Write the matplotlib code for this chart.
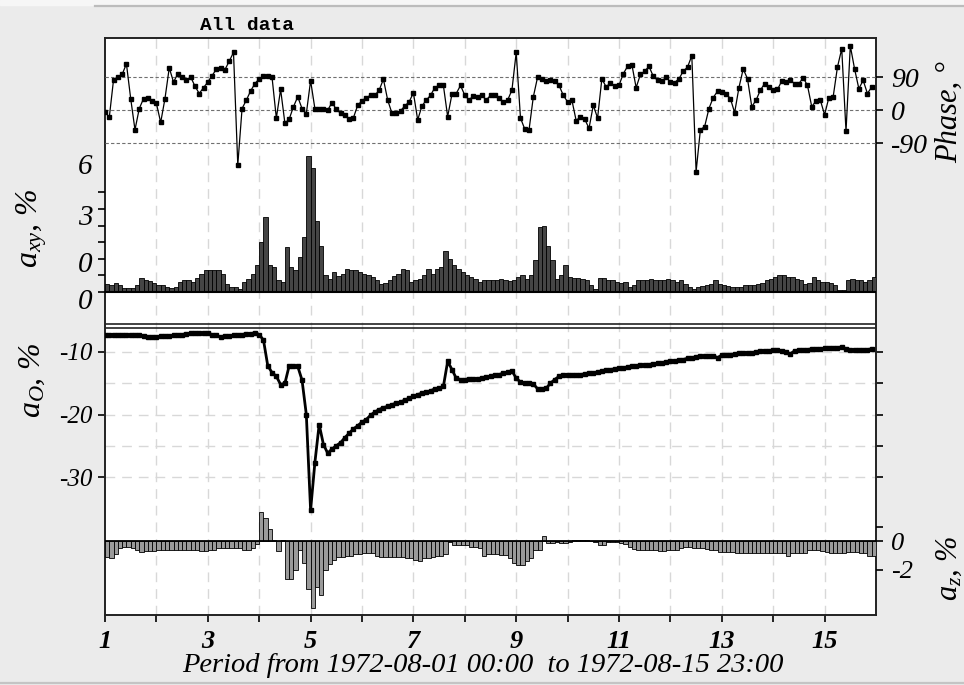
import numpy as np
import matplotlib.pyplot as plt
from matplotlib.lines import Line2D
from matplotlib.patches import Rectangle
import matplotlib.transforms as mtransforms

plt.rcParams["mathtext.fontset"] = "custom"
plt.rcParams["mathtext.it"] = "Liberation Serif:italic"
plt.rcParams["mathtext.rm"] = "Liberation Serif:italic"

# 2-hourly samples, 1972-08-01 00:00 .. 1972-08-15 22:00
hours = np.arange(0, 360, 2)
day = 1 + hours / 24
step = 2 / 24

# phase, degrees
phase = [
    -5, -20, 83, 90, 97, 126, 31, -54, 4, 31,
    34, 24, 18, -34, 31, 115, 76, 99, 90, 81,
    90, 65, 45, 61, 76, 94, 111, 115, 110, 133,
    157, -150, 4, 27, 52, 72, 85, 92, 93, 89,
    -22, 56, -36, -25, 9, 36, 4, -10, 80, 4,
    4, 4, 0, 20, 2, -9, -13, -25, -21, 13,
    25, 34, 40, 40, 54, 84, 27, -9, -9, -2,
    11, 22, 47, -27, 11, 27, 40, 61, 67, 67,
    -18, 43, 45, 67, 40, 27, 39, 36, 40, 27,
    40, 40, 33, 22, 27, 54, 157, -22, -52, -54,
    36, 90, 85, 79, 83, 79, 67, 40, 22, 27,
    -29, -18, -25, -50, 13, -22, 85, 63, 74, 66,
    67, 99, 119, 124, 61, 97, 106, 119, 92, 81,
    78, 90, 76, 75, 85, 106, 117, 148, -168, -54,
    -45, 4, 34, 51, 50, 45, 31, -7, 61, 112,
    85, 9, 27, 54, 72, 63, 54, 56, 79, 76,
    81, 72, 72, 88, 67, 9, 25, 27, -13, 34,
    36, 117, 167, -58, 175, 112, 58, 81, 45, 63,
]

# horizontal amplitude a_xy (tick units)
axy = [
    0.5, 0.4, 0.55, 0.45, 0.25, 0.25, 0.25, 0.4, 0.85, 0.75,
    0.65, 0.55, 0.4, 0.4, 0.3, 0.25, 0.3, 0.6, 0.75, 0.7,
    0.6, 0.85, 1.1, 1.3, 1.35, 1.3, 1.35, 1.1, 0.5, 0.3,
    0.3, 0.2, 0.6, 0.8, 1.1, 1.6, 3.0, 4.5, 1.6, 1.5,
    0.7, 0.6, 2.7, 1.5, 1.3, 2.1, 3.3, 8.2, 7.5, 4.25,
    2.8, 1.0, 0.8, 1.2, 0.95, 1.1, 1.4, 1.3, 1.3, 1.2,
    1.1, 1.0, 0.9, 0.7, 0.5, 0.55, 0.7, 0.95, 1.1, 1.4,
    1.3, 0.6, 0.7, 0.8, 1.0, 1.4, 1.1, 1.4, 1.5, 2.5,
    2.0, 1.6, 1.4, 1.2, 1.0, 0.9, 0.8, 0.6, 0.75, 0.75,
    0.7, 0.75, 0.8, 0.7, 0.65, 0.7, 0.9, 1.0, 0.8, 1.0,
    1.9, 3.9, 4.0, 2.8, 1.9, 0.8, 1.0, 1.6, 0.9, 0.85,
    0.85, 0.8, 0.7, 0.4, 0.2, 0.85, 0.85, 0.75, 0.7, 0.6,
    0.55, 0.6, 0.3, 0.4, 0.75, 0.75, 0.75, 0.8, 0.7, 0.75,
    0.75, 0.8, 0.7, 0.6, 0.7, 0.5, 0.3, 0.2, 0.3, 0.35,
    0.45, 0.5, 0.7, 0.5, 0.4, 0.35, 0.3, 0.3, 0.3, 0.45,
    0.4, 0.45, 0.5, 0.55, 0.7, 0.8, 0.9, 1.0, 1.0, 0.9,
    0.9, 0.8, 0.7, 0.5, 0.55, 0.9, 0.7, 0.6, 0.6, 0.55,
    0.4, 0.1, 0.1, 0.75, 0.8, 0.75, 0.75, 0.6, 0.75, 0.9,
]

# a0, %
a0 = [
    -7.3, -7.2, -7.2, -7.2, -7.2, -7.3, -7.3, -7.2, -7.3, -7.4,
    -7.6, -7.6, -7.6, -7.5, -7.4, -7.4, -7.3, -7.3, -7.2, -7.1,
    -7.0, -6.9, -6.9, -7.0, -7.0, -7.2, -7.3, -7.6, -7.5, -7.4,
    -7.3, -7.3, -7.2, -7.1, -7.1, -6.9, -7.2, -8.1, -12.2, -13.3,
    -13.9, -15.2, -15.0, -12.2, -12.3, -12.3, -14.5, -20.0, -35.3, -27.7,
    -21.6, -24.8, -26.2, -25.5, -25.0, -24.5, -23.7, -23.0, -22.3, -21.8,
    -21.2, -20.8, -20.1, -19.6, -19.2, -18.9, -18.7, -18.4, -18.2, -18.0,
    -17.7, -17.4, -17.1, -16.8, -16.6, -16.4, -16.2, -15.9, -15.8, -15.5,
    -11.5, -12.8, -14.2, -14.4, -14.4, -14.3, -14.3, -14.3, -14.2, -14.0,
    -13.9, -13.7, -13.6, -13.4, -13.2, -13.0, -14.2, -14.8, -15.0, -15.0,
    -15.1, -15.9, -15.9, -15.8, -15.0, -14.4, -13.9, -13.6, -13.6, -13.6,
    -13.7, -13.6, -13.5, -13.4, -13.3, -13.2, -13.1, -12.9, -12.8, -12.7,
    -12.6, -12.5, -12.4, -12.3, -12.2, -12.1, -12.1, -12.0, -11.9, -11.8,
    -11.7, -11.6, -11.5, -11.4, -11.3, -11.2, -11.0, -10.9, -10.8, -10.7,
    -10.7, -10.6, -10.6, -10.9, -10.5, -10.4, -10.4, -10.3, -10.2, -10.2,
    -10.1, -10.1, -10.0, -9.8, -9.8, -9.8, -9.7, -9.7, -9.8, -10.0,
    -10.3, -9.8, -9.7, -9.6, -9.6, -9.5, -9.5, -9.5, -9.4, -9.4,
    -9.3, -9.3, -9.2, -9.5, -9.6, -9.7, -9.7, -9.7, -9.6, -9.5,
]

# vertical amplitude a_z, %
az = [
    -1.1, -1.2, -0.9, -0.5, -0.4, -0.4, -0.5, -0.6, -0.75, -0.7,
    -0.7, -0.7, -0.6, -0.6, -0.6, -0.6, -0.65, -0.65, -0.6, -0.6,
    -0.6, -0.6, -0.7, -0.7, -0.6, -0.6, -0.5, -0.5, -0.5, -0.5,
    -0.5, -0.5, -0.6, -0.6, -0.5, -0.2, 2.0, 1.6, 0.8, 0.1,
    -0.7, 0.05, -2.6, -2.6, -2.0, -0.6, -1.5, -3.3, -4.6, -3.2,
    -3.7, -2.0, -1.6, -1.3, -1.1, -1.1, -1.0, -1.0, -0.9, -0.9,
    -0.85, -0.8, -0.8, -1.0, -1.1, -1.1, -1.1, -1.1, -1.1, -1.1,
    -1.2, -1.2, -1.3, -1.4, -1.2, -1.2, -1.1, -1.0, -1.0, -0.9,
    -0.05, -0.3, -0.3, -0.3, -0.3, -0.4, -0.4, -0.5, -1.0, -0.9,
    -0.9, -0.9, -0.95, -0.95, -1.2, -1.55, -1.65, -1.65, -1.4, -1.2,
    -0.6, -0.6, 0.35, -0.15, -0.15, -0.1, -0.15, -0.15, -0.1, 0.05,
    0.05, 0.05, 0.05, 0.0, -0.05, -0.3, -0.3, -0.1, -0.1, -0.1,
    -0.15, -0.2, -0.4, -0.55, -0.6, -0.6, -0.6, -0.6, -0.65, -0.7,
    -0.7, -0.6, -0.6, -0.6, -0.45, -0.4, -0.4, -0.45, -0.45, -0.45,
    -0.55, -0.6, -0.6, -0.75, -0.75, -0.75, -0.75, -0.8, -0.8, -0.8,
    -0.8, -0.8, -0.8, -0.8, -0.8, -0.8, -0.8, -0.85, -0.85, -1.0,
    -0.85, -0.85, -0.85, -0.8, -0.6, -0.6, -0.6, -0.7, -0.75, -0.8,
    -0.8, -0.8, -0.8, -0.75, -0.75, -0.75, -0.85, -0.85, -1.0, -1.0,
]

day_ticks = list(range(1, 16))
day_labels = [str(d) if d % 2 else "" for d in day_ticks]

# layout in pixels
W, H = 964, 685
L, R, T, B = 105, 876, 38, 615


def ylims(px_ref, val_ref, px_per_unit):
    return (val_ref - (B - px_ref) / px_per_unit,
            val_ref + (px_ref - T) / px_per_unit)


serif = dict(family="Liberation Serif", style="italic")

fig = plt.figure(figsize=(W / 100, H / 100), dpi=100, facecolor="#ebebeb")
fig.patches.append(Rectangle((0, 1 - 5 / H), 1, 5 / H, transform=fig.transFigure,
                             color="#f6f6f6", zorder=0))
fig.add_artist(Line2D([95 / W, 1], [1 - 6 / H] * 2, color="#bcbcbc", lw=1.6))
fig.add_artist(Line2D([0, 1], [1 - 683 / H] * 2, color="#c4c4c4", lw=1.6))

rect = [L / W, 1 - B / H, (R - L) / W, (B - T) / H]
ax_a0 = fig.add_axes(rect, zorder=1)
ax_xy = fig.add_axes(rect, zorder=2)
ax_z = fig.add_axes(rect, zorder=3)
ax_ph = fig.add_axes(rect, zorder=4)

for ax in (ax_xy, ax_z, ax_ph):
    ax.patch.set_visible(False)
    for s in ax.spines.values():
        s.set_visible(False)
    ax.tick_params(axis="x", bottom=False, labelbottom=False)
    ax.tick_params(axis="y", left=False, right=False, labelleft=False, labelright=False)
for ax in fig.axes:
    ax.set_xlim(1, 16)

ax_ph.set_ylim(*ylims(110, 0, 33 / 90))
ax_xy.set_ylim(*ylims(292, 0, 16.6))
ax_a0.set_ylim(*ylims(352, -10, 6.25))
ax_z.set_ylim(*ylims(541, 0, 14.5))

# base axes: frame, grid, x axis
ax_a0.set_facecolor("white")
for s in ax_a0.spines.values():
    s.set_color("#222222")
    s.set_linewidth(1.4)
for d in day_ticks[1:]:
    ax_a0.axvline(d, color="#d8d8d8", lw=1, dashes=(7, 5), zorder=0)
for v in (-10, -15, -20, -25, -30):
    ax_a0.axhline(v, color="#d8d8d8", lw=1, dashes=(7, 5), zorder=0)
for ypx in (324, 328):
    yf = (B - ypx) / (B - T)
    ax_a0.plot([0, 1], [yf, yf], transform=ax_a0.transAxes, color="#222222", lw=1.2)

ax_a0.set_xticks(day_ticks)
ax_a0.set_xticklabels(day_labels, family="Liberation Serif", style="italic",
                      weight="bold", fontsize=19)
ax_a0.tick_params(axis="x", direction="out", length=5, width=1.2, pad=6)

ax_a0.set_yticks([-30, -20, -10])
ax_a0.set_yticklabels(["-30", "-20", "-10"], fontsize=18, **serif)
ax_a0.set_yticks([-25, -15], minor=True)
ax_a0.tick_params(axis="y", which="major", direction="out", length=5, width=1.2,
                  left=True, right=True, labelleft=True, labelright=False, pad=4)
ax_a0.tick_params(axis="y", which="minor", direction="out", length=5, width=1.2,
                  left=False, right=True)

ax_a0.plot(day, a0, color="black", lw=2.0, marker="s", ms=2.6, zorder=3)

# a_xy bars
ax_xy.bar(day, axy, width=step, align="edge", color="#454545",
          edgecolor="black", linewidth=0.6, zorder=2)
ax_xy.axhline(0, color="black", lw=1.5, zorder=3)
ax_xy.set_yticks(range(0, 7))
ax_xy.tick_params(axis="y", left=True, direction="out", length=5, width=1.2,
                  labelleft=False)
lbl_tr = mtransforms.blended_transform_factory(ax_xy.transAxes, ax_xy.transData)
for txt, yv in (("6", 7.53), ("3", 4.46), ("0", 1.63), ("0", -0.6)):
    ax_xy.text(-0.026, yv, txt, transform=lbl_tr, ha="center", va="center",
               fontsize=21, **serif)

# a_z bars
ax_z.bar(day, az, width=step, align="edge", color="#9a9a9a",
         edgecolor="black", linewidth=0.6, zorder=2)
ax_z.axhline(0, color="black", lw=1.3, zorder=3)
ax_z.set_yticks([-2, 0, 1])
ax_z.set_yticklabels(["-2", "0", ""], fontsize=19, **serif)
ax_z.tick_params(axis="y", right=True, labelright=True, direction="out",
                 length=5, width=1.2, pad=6)

# phase
for v in (-90, 0, 90):
    ax_ph.axhline(v, color="#707070", lw=0.8, dashes=(3, 2), zorder=1)
ax_ph.plot(day, phase, color="black", lw=0.9, marker="s", ms=2.3, zorder=5)
ax_ph.set_yticks([-90, 0, 90])
ax_ph.set_yticklabels(["-90", "0", "90"], fontsize=20, **serif)
ax_ph.tick_params(axis="y", right=True, labelright=True, direction="out",
                  length=5, width=1.2, pad=6)

# texts
fig.text(200 / W, 1 - 25 / H, "All data", family="Liberation Mono", weight="bold",
         fontsize=14, ha="left", va="center")
fig.text(483 / W, 1 - 665 / H, "Period from 1972-08-01 00:00  to 1972-08-15 23:00",
         ha="center", va="center", fontsize=20.5, **serif)
fig.text(32 / W, 1 - 228 / H, r"$a_{xy}$, %", rotation=90, ha="center", va="center",
         fontsize=23, **serif)
fig.text(32 / W, 1 - 380 / H, r"$a_{O}$, %", rotation=90, ha="center", va="center",
         fontsize=23, **serif)
fig.text(949 / W, 1 - 112 / H, "Phase, °", rotation=90, ha="center", va="center",
         fontsize=22, **serif)
fig.text(949 / W, 1 - 568 / H, r"$a_{z}$, %", rotation=90, ha="center", va="center",
         fontsize=22, **serif)

fig.savefig("out.png", dpi=100, facecolor=fig.get_facecolor())
